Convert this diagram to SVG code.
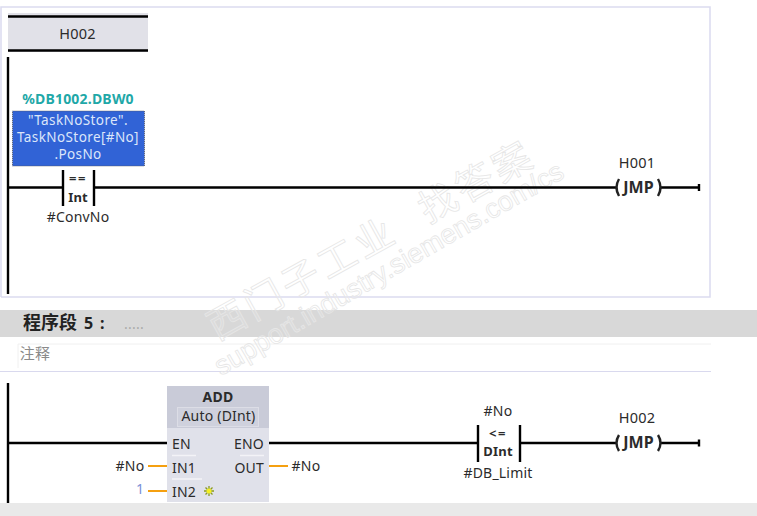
<svg xmlns="http://www.w3.org/2000/svg" width="757" height="516" viewBox="0 0 757 516">
<style>
text{font-family:"Noto Sans","Open Sans","Noto Sans CJK SC",sans-serif;font-size:14px;letter-spacing:.2px;fill:#2b2b2b;text-anchor:middle}
.b{font-weight:700;font-size:13px}
.j{font-weight:700;font-size:16px;letter-spacing:0}
.p{text-anchor:start;font-size:14px}
.e{text-anchor:end;font-size:14px}
.t{fill:#dce6fa;font-size:13.500px;letter-spacing:.4px}
.w{fill:none;stroke:#000;stroke-width:2.400}
.o{fill:none;stroke:#f5a010;stroke-width:2}
.wm{fill:#fff;fill-opacity:.15;stroke:#e6e6e6;stroke-width:.8;text-anchor:start;font-family:"Noto Sans CJK SC","Liberation Sans",sans-serif}
.l{fill:none;stroke:#d9d9ee;stroke-width:1}
.c{fill:none;stroke:#222;stroke-width:2.400}
</style>
<rect width="757" height="516" fill="#fff"/>
<path d="M1 297V7H710V297H1" fill="none" stroke="#dcdcf0" stroke-width="1.600"/>
<rect x="0" y="310" width="757" height="27" fill="#d8d8d8"/>
<path d="M18 344H711M18 344V368" fill="none" stroke="#f0f0f0" stroke-width="1"/>
<path class="l" d="M0 371.500H711"/>
<rect x="0" y="503" width="757" height="13" fill="#e9e9e9"/>
<text y="329" style="font-family:'Noto Sans CJK SC',sans-serif;font-size:18px;font-weight:700;fill:#222;text-anchor:start;letter-spacing:0"><tspan x="23">程序段</tspan><tspan x="84" style="font-family:'Noto Sans',sans-serif;font-size:16px">5</tspan><tspan x="100" style="font-family:'Noto Sans',sans-serif;font-size:16px">:</tspan></text>
<text x="134" y="329" style="font-size:14px;fill:#aaa">.....</text>
<text x="35" y="359" style="font-family:'Noto Sans CJK SC',sans-serif;font-size:15px;fill:#8a8a8a">注释</text>

<g id="watermark">
<text class="wm" transform="translate(217 341) rotate(-29)" style="font-size:38px;letter-spacing:4px">西门子工业</text>
<text class="wm" transform="translate(428 224) rotate(-29)" style="font-size:38px;letter-spacing:4px">找答案</text>
<text class="wm" transform="translate(221 376) rotate(-30)" style="font-size:27.500px;letter-spacing:0;font-family:'Liberation Sans',sans-serif">support.industry.siemens.com/cs</text>
</g>

<g id="connectors">
<path class="w" d="M8 57V294M8 187.500H63M94 187.500H616M661 187.500H699M699 184V191"/>
<path class="w" d="M63 170V206M94 170V206"/>
<path class="w" d="M8 383V503M8 443H167M269 443H478M520 443H616M661 443H699M699 439.500V446.500"/>
<path class="w" d="M478 425V462M520 425V462"/>
<path class="o" d="M148 466H167M148 491H167M269 466H288"/>
</g>

<g id="H002-label">
<rect x="8" y="13" width="140" height="39" fill="#e1e1e8"/>
<path d="M8 16.500H148M8 50.500H148" fill="none" stroke="#000" stroke-width="2.400"/>
<text x="77.500" y="39" style="font-size:14.500px">H002</text>
</g>

<g id="compare-eq">
<text x="78" y="104" style="font-weight:700;font-size:14px;fill:#1fa8a8">%DB1002.DBW0</text>
<rect x="12.500" y="111" width="132" height="55" fill="#3163d6" stroke="#555" stroke-width=".8" stroke-dasharray="1 1"/>
<text class="t"><tspan x="78" y="125">"TaskNoStore".</tspan><tspan x="78" y="142">TaskNoStore[#No]</tspan><tspan x="78" y="159">.PosNo</tspan></text>
<text x="78" y="183" class="b" style="letter-spacing:1.500px">==</text>
<text x="78" y="202" class="b">Int</text>
<text x="78" y="222">#ConvNo</text>
</g>

<g id="jmp-h001">
<text x="637" y="168" style="font-size:14.500px">H001</text>
<text x="638.500" y="193" class="j">JMP</text>
<path d="M619 179Q614 187.500 619 196M658 179Q663 187.500 658 196" class="c"/>
</g>

<g id="add-block">
<rect x="167" y="386" width="102" height="116" fill="#e0e1ea"/>
<rect x="167" y="386" width="102" height="42" fill="#c9cbd8"/>
<text x="218" y="402" class="b" style="font-size:14px">ADD</text>
<rect x="177.500" y="407.500" width="81" height="19" fill="#cfd1dd" stroke="#dcdde6"/>
<text x="218.500" y="421" style="font-size:14px">Auto (DInt)</text>
<text x="172" y="449" class="p">EN</text>
<text x="264" y="449" class="e">ENO</text>
<text x="172" y="473" class="p">IN1</text>
<text x="264" y="473" class="e">OUT</text>
<text x="172" y="497" class="p">IN2</text>
<path d="M172 455.500H196M240 455.500H264M172 479H202" stroke="#f3f3f7" stroke-width="1.500" fill="none"/>
<path d="M204 491H214M209 486V496M205.500 487.500L212.500 494.500M212.500 487.500L205.500 494.500" stroke="#8a9a20" stroke-width="1.300" fill="none"/>
<circle cx="209" cy="491" r="2.500" fill="#f5f020"/>
<text x="130" y="471">#No</text>
<text x="140" y="494" style="fill:#7a90d8">1</text>
<text x="306" y="471">#No</text>
</g>

<g id="compare-le">
<text x="498" y="416">#No</text>
<text x="498" y="438" class="b" style="letter-spacing:1.500px">&lt;=</text>
<text x="498" y="456" class="b">DInt</text>
<text x="498" y="478">#DB_Limit</text>
</g>

<g id="jmp-h002">
<text x="637" y="423" style="font-size:14.500px">H002</text>
<text x="638.500" y="448" class="j">JMP</text>
<path d="M619 435Q614 443 619 451M658 435Q663 443 658 451" class="c"/>
</g>
</svg>
